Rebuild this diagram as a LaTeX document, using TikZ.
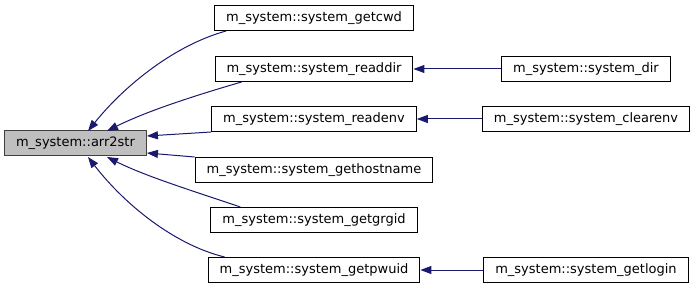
\documentclass[tikz,border=0pt]{standalone}
\usepackage{fontspec}
\setmainfont{DejaVu Sans}
\usetikzlibrary{arrows.meta}
\definecolor{edgeblue}{HTML}{191970}
\definecolor{nodegray}{HTML}{BFBFBF}
\definecolor{bordergray}{HTML}{404040}
\begin{document}
\begin{tikzpicture}[x=1pt,y=-1pt,
  fn/.style={draw=black,line width=1pt,fill=white,inner xsep=11.5pt,inner ysep=0pt,minimum height=25pt,font=\fontsize{13}{15}\selectfont},
  root/.style={fn,draw=bordergray,fill=nodegray},
  call/.style={draw=edgeblue,line width=1pt,-{Triangle[length=11pt,width=8pt]}}]
\useasboundingbox (0,0) rectangle (696,291);
% the function and everything that calls it
\node[root] (arr) at (75.5,143.5) {m\_system::arr2str};
\node[fn] (cwd) at (314,18) {m\_system::system\_getcwd};
\node[fn] (readdir) at (314,69) {m\_system::system\_readdir};
\node[fn] (readenv) at (314,119) {m\_system::system\_readenv};
\node[fn] (host) at (314,170) {m\_system::system\_gethostname};
\node[fn] (grgid) at (314,220) {m\_system::system\_getgrgid};
\node[fn] (pwuid) at (314,270) {m\_system::system\_getpwuid};
% callers one step further out
\node[fn] (dir) at (586,69) {m\_system::system\_dir};
\node[fn] (clearenv) at (586,119) {m\_system::system\_clearenv};
\node[fn] (login) at (586,270) {m\_system::system\_getlogin};
% calls into arr2str
\draw[call] ([xshift=12pt]cwd.south west) .. controls (175,45) and (125,85) .. (88,131);
\draw[call] ([xshift=27pt]readdir.south west) .. controls (190,97) and (145,112) .. (107,131);
\draw[call] (readenv.south west) -- (arr.east |- 0,136);
\draw[call] (host.north west) -- (arr.east |- 0,153);
\draw[call] ([xshift=30pt]grgid.north west) .. controls (190,190) and (145,176) .. (107,157);
\draw[call] ([xshift=17pt]pwuid.north west) .. controls (175,245) and (125,205) .. (88,157);
% second level
\draw[call] (dir) -- (readdir);
\draw[call] (clearenv) -- (readenv);
\draw[call] (login) -- (pwuid);
\end{tikzpicture}
\end{document}
